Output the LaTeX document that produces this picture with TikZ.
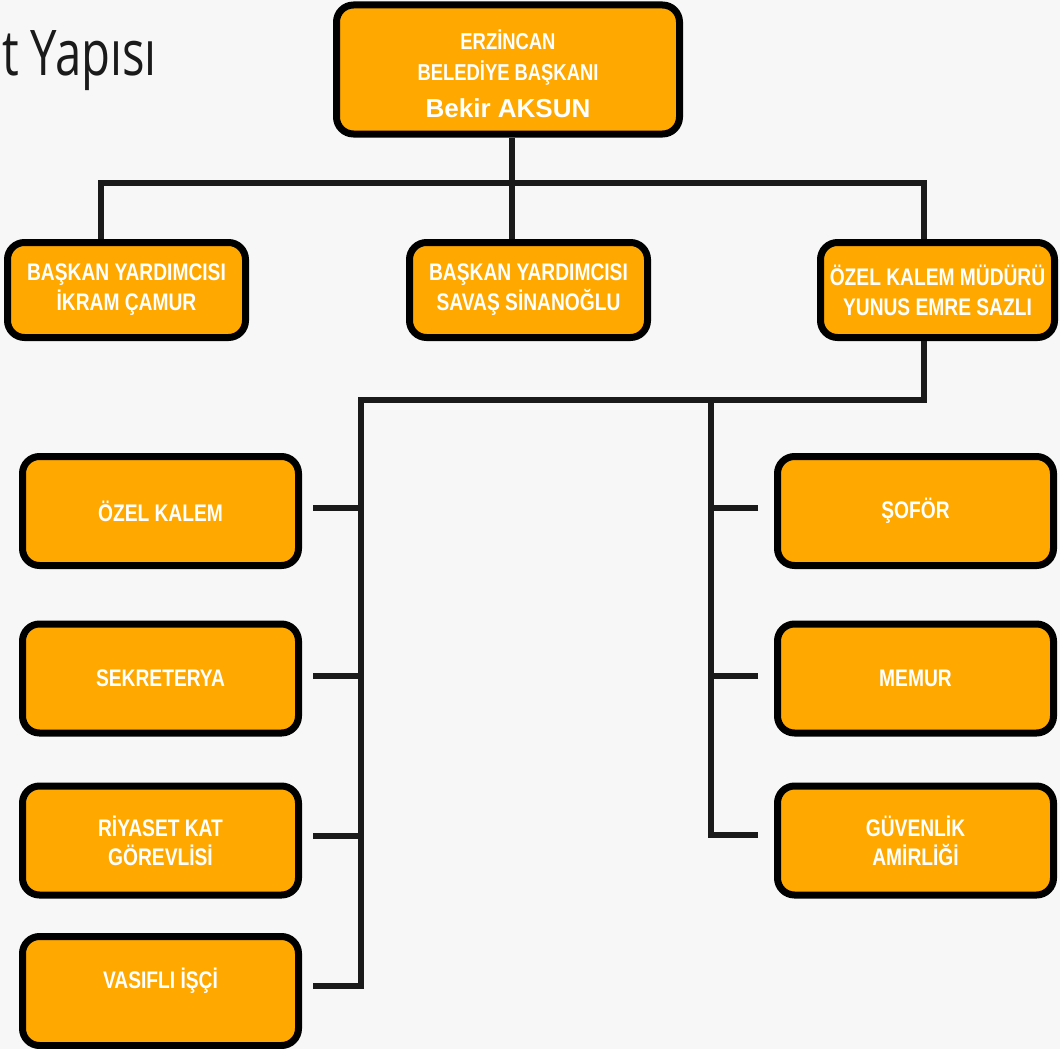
\documentclass[tikz,border=0pt]{standalone}
\usepackage{fontspec}
\setmainfont{Liberation Sans}
\newfontfamily\narrowfont[FakeStretch=0.8]{Liberation Sans}
\newfontfamily\titlefont[FakeStretch=0.75]{Open Sans}
\definecolor{boxorange}{HTML}{FFA800}
\definecolor{linegray}{HTML}{1A1A1A}
\definecolor{bgcol}{HTML}{F7F7F7}
\begin{document}
\begin{tikzpicture}[x=1pt,y=-1pt,
  box/.style={draw=black, line width=7pt, fill=boxorange, rounded corners=17pt,
    align=center, text=white, inner sep=0pt,
    font=\narrowfont\bfseries\fontsize{24}{29}\selectfont},
  boxtext/.style={align=center, text=white, inner sep=0pt,
    font=\narrowfont\bfseries\fontsize{24}{29}\selectfont},
  rowtwo/.style={box, minimum height=95pt, font=\narrowfont\bfseries\fontsize{24}{30}\selectfont},
  colbox/.style={box, minimum width=276pt, minimum height=109pt},
  conn/.style={draw=linegray, line width=6.5pt}]
\fill[bgcol] (0,0) rectangle (1060,1049);
\useasboundingbox (0,0) rectangle (1060,1049);
\clip (0,0) rectangle (1060,1049);

% title
\node[anchor=base east, inner sep=0pt, text=linegray,
  font=\titlefont\fontsize{63}{70}\selectfont] (title) at (157,75) {t Yapısı};

% top box
\node[box, minimum width=343pt, minimum height=129pt] (top) at (508,69.5) {};
\node[boxtext, font=\narrowfont\bfseries\fontsize{23}{31}\selectfont] (toptext) at (508,74)
  {ERZİNCAN\\BELEDİYE BAŞKANI\\[6pt]{\normalfont\bfseries\fontsize{26}{31}\selectfont Bekir AKSUN}};

% second row
\node[rowtwo, minimum width=238pt] (b1) at (126.5,290) {BAŞKAN YARDIMCISI\\İKRAM ÇAMUR};
\node[rowtwo, minimum width=238pt] (b2) at (528.5,290) {BAŞKAN YARDIMCISI\\SAVAŞ SİNANOĞLU};
\node[rowtwo, minimum width=234pt] (b3) at (937.5,290) {ÖZEL KALEM MÜDÜRÜ\\YUNUS EMRE SAZLI};

% left column
\node[colbox] (l1) at (160.5,511) {ÖZEL KALEM};
\node[colbox] (l2) at (160.5,678.5) {SEKRETERYA};
\node[colbox] (l3) at (160.5,840.5) {RİYASET KAT\\GÖREVLİSİ};
\node[colbox] (l4) at (160.5,991) {};
\node[boxtext] (l4text) at (160.5,981) {VASIFLI İŞÇİ};

% right column
\node[colbox] (r1) at (915.5,511) {ŞOFÖR};
\node[colbox] (r2) at (915.5,678.5) {MEMUR};
\node[colbox] (r3) at (915.5,840.5) {GÜVENLİK\\AMİRLİĞİ};

% bus coordinates
\coordinate (jt) at (512,183);
\coordinate (jl) at (101,183);
\coordinate (jr) at (924,183);
\coordinate (kr) at (924,400);
\coordinate (kl) at (361,400);
\coordinate (km) at (711,400);
\coordinate (t1) at (313,508);
\coordinate (t2) at (313,676);
\coordinate (t3) at (313,836);
\coordinate (t4) at (313,986);
\coordinate (u1) at (758,508);
\coordinate (u2) at (758,676);
\coordinate (u3) at (758,835);

% connectors
\draw[conn] (top.south -| jt) -- (jt);
\draw[conn] (jl |- b1.north) -- (jl) -- (jr) -- (jr |- b3.north);
\draw[conn] (jt) -- (jt |- b2.north);
\draw[conn] (b3.south -| kr) -- (kr) -- (kl) -- (kl |- t4) -- (t4);
\draw[conn] (km) -- (km |- u3) -- (u3);
\draw[conn] (t1) -- (t1 -| kl);
\draw[conn] (t2) -- (t2 -| kl);
\draw[conn] (t3) -- (t3 -| kl);
\draw[conn] (u1) -- (u1 -| km);
\draw[conn] (u2) -- (u2 -| km);
\end{tikzpicture}
\end{document}
